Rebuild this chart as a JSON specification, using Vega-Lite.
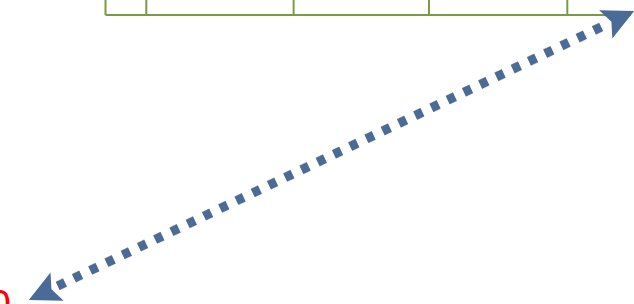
{
  "$schema": "https://vega.github.io/schema/vega-lite/v6.json",
  "width": 634,
  "height": 304,
  "autosize": {"type": "fit", "contains": "padding"},
  "padding": 0,
  "background": "white",
  "config": {"view": {"stroke": null}},
  "encoding": {
    "x": {"type": "quantitative", "scale": {"domain": [0, 634], "nice": false, "zero": false}, "axis": null},
    "y": {"type": "quantitative", "scale": {"domain": [0, 304], "nice": false, "zero": false, "reverse": true}, "axis": null}
  },
  "layer": [
    {
      "data": {"values": [
        {"x": 106, "y": 15, "x2": 640, "y2": 15},
        {"x": 106, "y": -5, "x2": 106, "y2": 15},
        {"x": 147, "y": -5, "x2": 147, "y2": 15},
        {"x": 295, "y": -5, "x2": 295, "y2": 15},
        {"x": 431, "y": -5, "x2": 431, "y2": 15},
        {"x": 570, "y": -5, "x2": 570, "y2": 15}
      ]},
      "mark": {"type": "rule", "color": "#7A9A44", "strokeWidth": 2, "clip": true},
      "encoding": {
        "x": {"field": "x", "type": "quantitative"},
        "y": {"field": "y", "type": "quantitative"},
        "x2": {"field": "x2"},
        "y2": {"field": "y2"}
      }
    },
    {
      "data": {"values": [{"x": 58, "y": 286, "x2": 606, "y2": 26}]},
      "mark": {"type": "rule", "color": "#000000", "opacity": 0.2, "strokeWidth": 10, "strokeDash": [8, 10], "strokeCap": "butt", "dx": 3, "dy": 4},
      "encoding": {
        "x": {"field": "x", "type": "quantitative"},
        "y": {"field": "y", "type": "quantitative"},
        "x2": {"field": "x2"},
        "y2": {"field": "y2"}
      }
    },
    {
      "data": {"values": [{"x": 58, "y": 286, "x2": 606, "y2": 26}]},
      "mark": {"type": "rule", "color": "#4A6A98", "strokeWidth": 9, "strokeDash": [8, 10], "strokeCap": "butt"},
      "encoding": {
        "x": {"field": "x", "type": "quantitative"},
        "y": {"field": "y", "type": "quantitative"},
        "x2": {"field": "x2"},
        "y2": {"field": "y2"}
      }
    },
    {
      "data": {"values": [
        {"x": 620, "y": 19, "head": "end"},
        {"x": 46, "y": 292, "head": "start"}
      ]},
      "mark": {"type": "point", "filled": true, "color": "#4A6A98", "opacity": 1, "size": 3900},
      "encoding": {
        "x": {"field": "x", "type": "quantitative"},
        "y": {"field": "y", "type": "quantitative"},
        "shape": {
          "field": "head",
          "type": "nominal",
          "legend": null,
          "scale": {
            "domain": ["end", "start"],
            "range": [
              "M0.544,-0.254L-0.151,0.622L-0.181,0.085L-0.573,-0.284Z",
              "M-0.544,0.254L0.151,-0.622L0.181,-0.085L0.573,0.284Z"
            ]
          }
        }
      }
    },
    {
      "data": {"values": [{"x": 11, "y": 318, "label": "0"}]},
      "mark": {"type": "text", "color": "#FF0000", "fontSize": 40, "font": "Liberation Sans", "align": "right", "baseline": "alphabetic", "clip": true},
      "encoding": {
        "x": {"field": "x", "type": "quantitative"},
        "y": {"field": "y", "type": "quantitative"},
        "text": {"field": "label"}
      }
    }
  ]
}
